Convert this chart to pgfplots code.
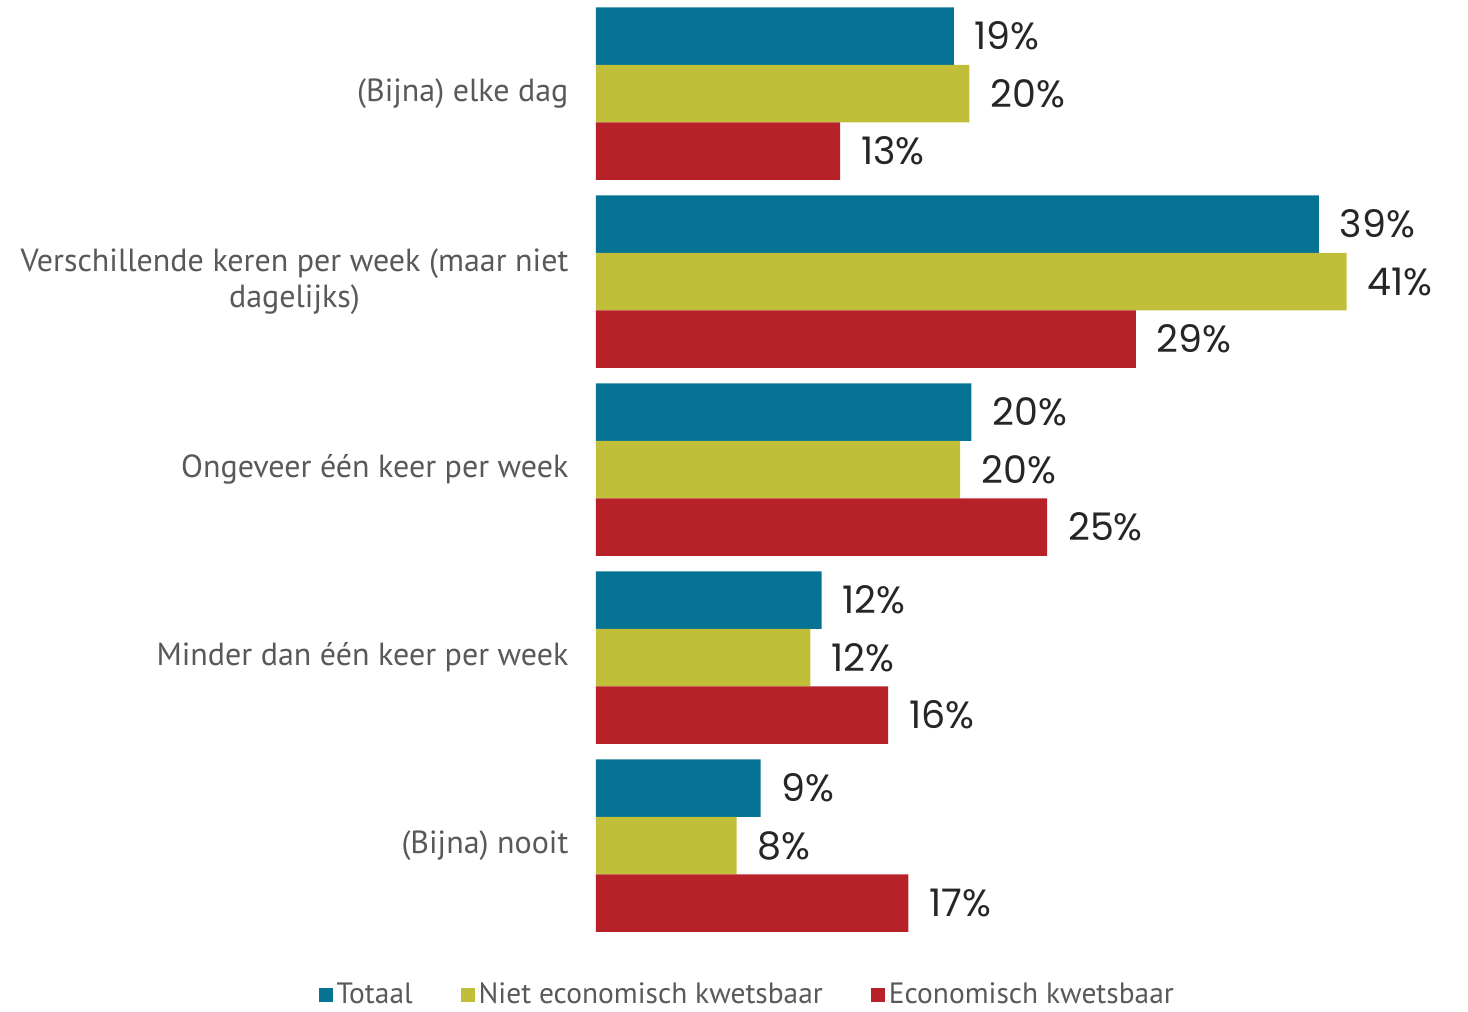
\documentclass[border=0pt]{standalone}
\usepackage{fontspec}
\setmainfont{PT Sans}
\newfontfamily\valfont{Poppins}
\usepackage{pgfplots}
\pgfplotsset{compat=1.18}

\definecolor{cTot}{HTML}{067394}
\definecolor{cNiet}{HTML}{C1BF39}
\definecolor{cEco}{HTML}{B72228}
\definecolor{txtgray}{HTML}{595959}
\definecolor{valgray}{HTML}{262626}

\begin{document}
\begin{tikzpicture}
\useasboundingbox (-298pt,-36.25pt) rectangle (436pt,469.75pt);
\begin{axis}[
    xbar,
    scale only axis,
    width=416pt, height=470pt,
    xmin=0, xmax=45,
    ymin=-0.5, ymax=4.5,
    y dir=reverse,
    axis line style={draw=none},
    major tick style={draw=none},
    bar width=28.75pt,
    ytick={0,1,2,3,4},
    yticklabels={(Bijna) elke dag, Verschillende keren per week (maar niet\\dagelijks), Ongeveer één keer per week, Minder dan één keer per week, (Bijna) nooit},
    yticklabel style={align=center, font=\fontsize{16}{18}\selectfont, text=txtgray, anchor=east, xshift=-6pt},
    xtick=\empty,
    point meta=explicit symbolic,
    nodes near coords,
    nodes near coords style={font=\valfont\fontsize{19}{21}\selectfont, text=valgray, anchor=west, xshift=7pt},
    legend style={at={(0.183,-0.059)}, anchor=center, draw=none, legend columns=3,
        font=\fontsize{14.7}{16}\selectfont, text=txtgray, inner sep=1pt,
        /tikz/every even column/.append style={column sep=22pt}},
    legend image code/.code={\fill[#1] (0pt,-3.5pt) rectangle (7pt,3.5pt);},
]
\addplot[fill=cTot, draw=none, bar shift=28.75pt] coordinates {
    (19.35,0) [19\%] (39.1,1) [39\%] (20.3,2) [20\%] (12.2,3) [12\%] (8.9,4) [9\%]
};
\addplot[fill=cNiet, draw=none, bar shift=0pt] coordinates {
    (20.2,0) [20\%] (40.6,1) [41\%] (19.7,2) [20\%] (11.6,3) [12\%] (7.6,4) [8\%]
};
\addplot[fill=cEco, draw=none, bar shift=-28.75pt] coordinates {
    (13.2,0) [13\%] (29.2,1) [29\%] (24.4,2) [25\%] (15.8,3) [16\%] (16.9,4) [17\%]
};
\legend{Totaal, Niet economisch kwetsbaar, Economisch kwetsbaar}
\end{axis}
\end{tikzpicture}
\end{document}
